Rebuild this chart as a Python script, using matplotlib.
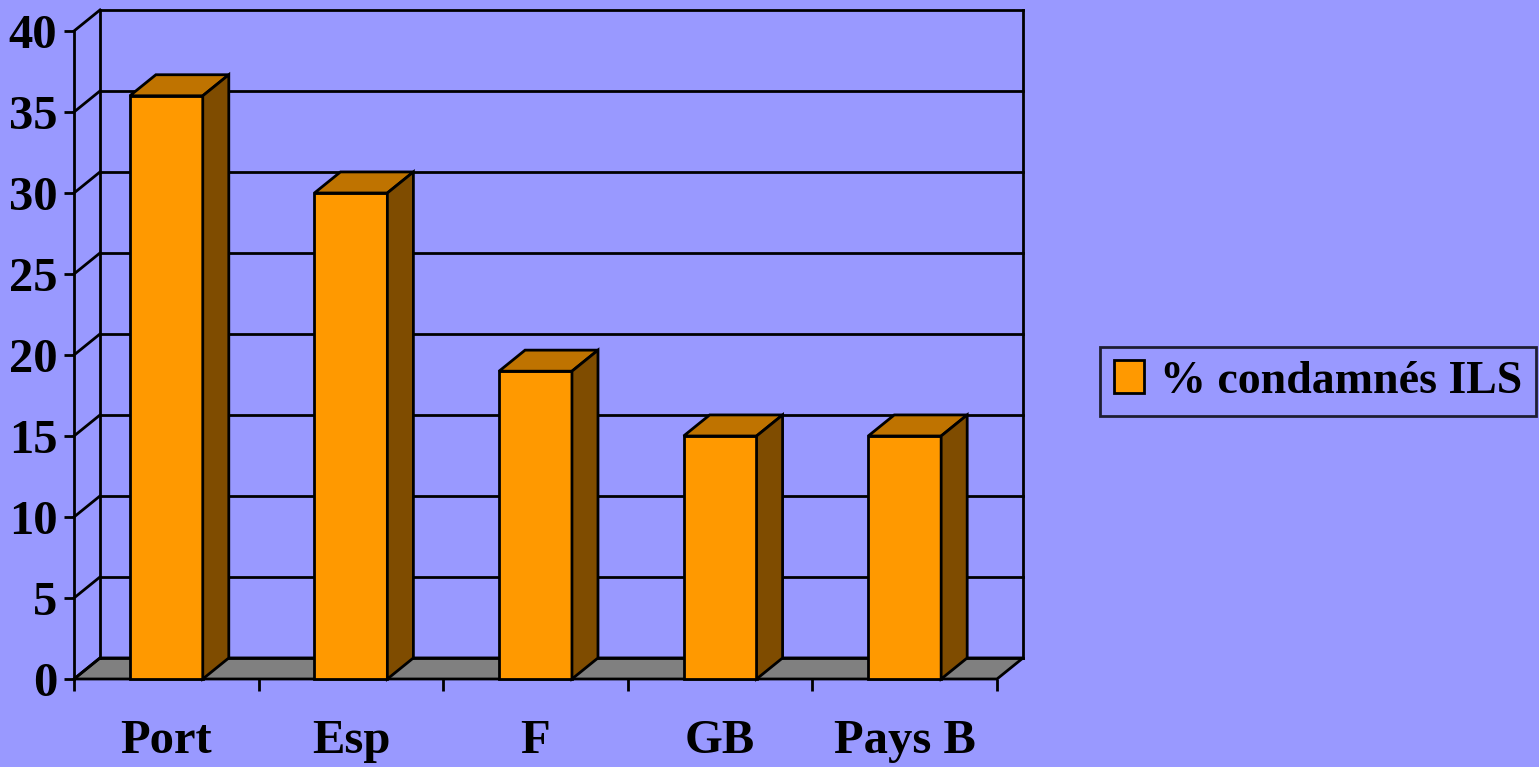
import matplotlib
matplotlib.use("Agg")
import matplotlib.pyplot as plt
from matplotlib.patches import Polygon, Rectangle, Patch

# data
pays = ["Port", "Esp", "F", "GB", "Pays B"]
pct_ils = [36, 30, 19, 15, 15]
y_ticks = [0, 5, 10, 15, 20, 25, 30, 35, 40]
serie = "% condamnés ILS"

bg = "#9999FF"
front_col = "#FF9900"
top_col = "#BF7300"
side_col = "#7F4C00"
floor_col = "#808080"

plt.rcParams["font.family"] = ["Liberation Serif", "DejaVu Serif"]
plt.rcParams["font.weight"] = "bold"

fig = plt.figure(figsize=(15.39, 7.67), dpi=100, facecolor=bg)
ax = fig.add_axes([74 / 1539, 88 / 767, 923 / 1539, 648 / 767])
ax.set_facecolor("none")
for s in ax.spines.values():
    s.set_visible(False)

n = len(pays)
ax.set_xlim(0, n)
ax.set_ylim(0, 40)

# depth of the pseudo-3D box, in data units
dx, dy = 0.141, 1.30
lw = 2.0
kw = dict(color="black", lw=lw, clip_on=False, solid_capstyle="projecting")

# floor
ax.add_patch(Polygon([(0, 0), (n, 0), (n + dx, dy), (dx, dy)], closed=True,
                     facecolor=floor_col, edgecolor="black", lw=lw, clip_on=False, zorder=1))

# back wall grid and left wall diagonals
for v in y_ticks:
    ax.plot([dx, n + dx], [v + dy, v + dy], zorder=1, **kw)
    ax.plot([0, dx], [v, v + dy], zorder=1, **kw)
ax.plot([dx, dx], [dy, 40 + dy], zorder=1, **kw)
ax.plot([n + dx, n + dx], [dy, 40 + dy], zorder=1, **kw)
ax.plot([0, 0], [0, 40], zorder=1, **kw)

# bars
w = 0.395
for i, v in enumerate(pct_ils):
    x0 = i + 0.5 - w / 2
    x1 = x0 + w
    ax.add_patch(Rectangle((x0, 0), w, v, facecolor=front_col, edgecolor="black",
                           lw=lw, clip_on=False, zorder=3))
    ax.add_patch(Polygon([(x0, v), (x1, v), (x1 + dx, v + dy), (x0 + dx, v + dy)],
                         closed=True, facecolor=top_col, edgecolor="black",
                         lw=lw, clip_on=False, zorder=3))
    ax.add_patch(Polygon([(x1, 0), (x1 + dx, dy), (x1 + dx, v + dy), (x1, v)],
                         closed=True, facecolor=side_col, edgecolor="black",
                         lw=lw, clip_on=False, zorder=3))

# axes ticks and labels
ax.set_yticks(y_ticks)
ax.set_yticklabels([str(t) for t in y_ticks], fontsize=35, fontweight="bold")
ax.tick_params(axis="y", length=7, width=lw, pad=5)
ax.set_xticks(range(n + 1))
ax.set_xticklabels([])
ax.tick_params(axis="x", which="major", length=8.5, width=lw)
ax.set_xticks([i + 0.5 for i in range(n)], minor=True)
ax.set_xticklabels(pays, minor=True, fontsize=35, fontweight="bold")
ax.tick_params(axis="x", which="minor", length=0, pad=29)

# legend
handle = Patch(facecolor=front_col, edgecolor="black", lw=lw)
leg = fig.legend([handle], [serie], loc="center left",
                 bbox_to_anchor=(1100 / 1539, 1 - 381.5 / 767),
                 prop={"size": 33, "weight": "bold"}, frameon=True,
                 fancybox=False, facecolor=bg, edgecolor="black",
                 handlelength=0.65, handleheight=0.7, handletextpad=0.35,
                 borderpad=0.3, borderaxespad=0)
leg.get_frame().set_linewidth(lw)

fig.savefig("out.png", dpi=100, facecolor=bg)
